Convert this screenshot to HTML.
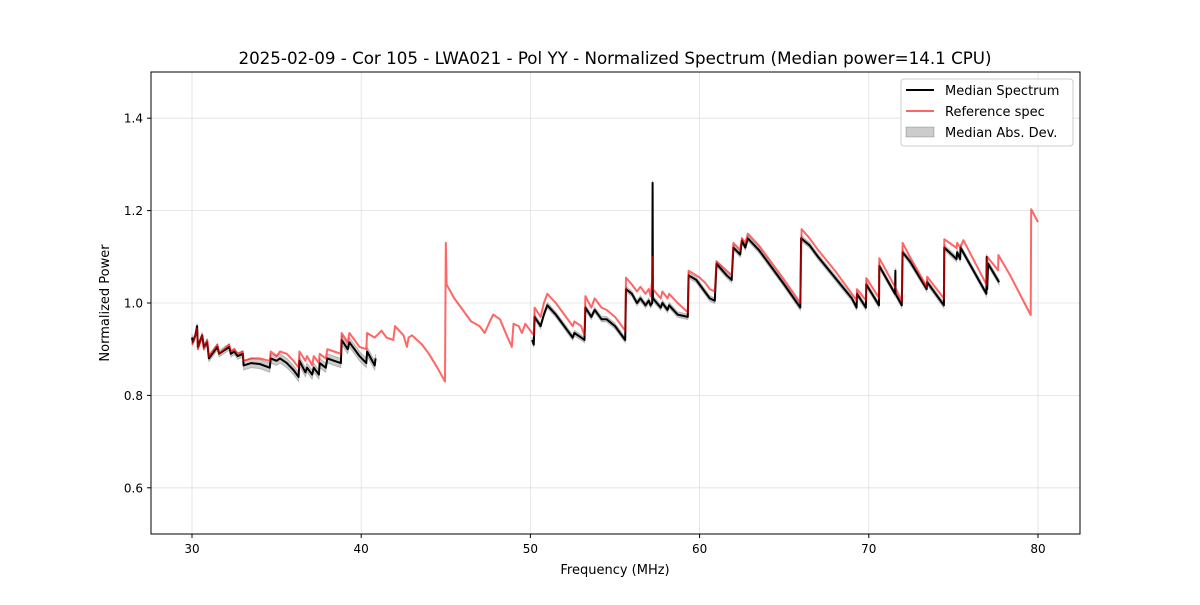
<!DOCTYPE html>
<html><head><meta charset="utf-8"><style>
body{margin:0;background:#fff;font-family:"Liberation Sans",sans-serif}
svg text{font-family:"DejaVu Sans","Liberation Sans",sans-serif;fill:#000}
</style></head><body>
<svg id="chart" width="1200" height="600" xmlns="http://www.w3.org/2000/svg">
<rect width="1200" height="600" fill="#fff"/>
<text x="615" y="64" text-anchor="middle" font-size="16.7">2025-02-09 - Cor 105 - LWA021 - Pol YY - Normalized Spectrum (Median power=14.1 CPU)</text>
<g id="grid"></g><g id="band"></g><g id="lines"></g><g id="axes"></g>
<text x="615" y="574" text-anchor="middle" font-size="13">Frequency (MHz)</text>
<text transform="translate(109,303) rotate(-90)" text-anchor="middle" font-size="13">Normalized Power</text>
<g>
<rect x="901" y="79" width="172" height="67" rx="3" fill="#fff" stroke="#ccc"/>
<line x1="906" y1="90" x2="934" y2="90" stroke="#000" stroke-width="2"/>
<text x="945" y="95" font-size="13">Median Spectrum</text>
<line x1="906" y1="111" x2="934" y2="111" stroke="red" stroke-opacity="0.6" stroke-width="2"/>
<text x="945" y="116" font-size="13">Reference spec</text>
<rect x="906" y="127" width="28" height="10" fill="#000" fill-opacity="0.2" stroke="#000" stroke-opacity="0.2"/>
<text x="945" y="137" font-size="13">Median Abs. Dev.</text>
</g>
</svg>
<script>
const xTicks=[30,40,50,60,70,80];
const yTicks=[0.6,0.8,1.0,1.2,1.4];
const refFreq=[30.0,30.2,30.3,30.35,30.6,30.7,30.9,31.0,31.5,31.6,32.2,32.3,32.5,32.7,33.0,33.05,33.5,34.0,34.6,34.65,35.0,35.2,35.6,36.0,36.3,36.35,36.7,36.8,37.1,37.2,37.5,37.55,37.9,38.0,38.4,38.8,38.85,39.2,39.3,39.9,40.3,40.35,40.8,41.2,41.5,41.9,42.0,42.5,42.7,42.8,43.0,43.3,43.6,44.0,44.5,44.95,45.0,45.05,45.5,46.0,46.5,47.0,47.3,47.6,47.8,48.2,48.6,48.9,49.0,49.3,49.5,49.7,50.0,50.2,50.25,50.6,50.8,51.0,51.5,52.5,52.6,53.0,53.2,53.25,53.6,53.8,54.2,54.5,55.0,55.6,55.65,56.0,56.3,56.5,56.8,57.0,57.1,57.2,57.22,57.24,57.7,57.8,58.1,58.2,58.7,59.3,59.35,59.8,60.0,60.3,60.6,60.9,61.0,61.6,61.9,62.0,62.4,62.5,62.7,62.85,63.5,64.0,65.0,65.95,66.03,66.5,67.0,68.0,69.0,69.28,69.3,69.83,69.85,70.6,70.62,71.55,71.95,72.0,72.43,73.42,73.45,74.44,74.46,75.19,75.22,75.4,75.59,76.97,77.0,77.64,77.66,78.35,79.57,79.6,80.0];
const refVal=[0.91,0.93,0.945,0.90,0.93,0.90,0.92,0.885,0.91,0.89,0.91,0.895,0.90,0.89,0.895,0.875,0.88,0.88,0.875,0.895,0.885,0.895,0.89,0.875,0.86,0.895,0.875,0.885,0.865,0.885,0.87,0.89,0.88,0.90,0.895,0.89,0.935,0.915,0.935,0.905,0.90,0.935,0.925,0.94,0.925,0.92,0.95,0.93,0.905,0.925,0.93,0.92,0.91,0.89,0.86,0.83,1.13,1.04,1.01,0.985,0.96,0.95,0.935,0.96,0.975,0.965,0.93,0.905,0.955,0.95,0.935,0.955,0.94,0.93,0.99,0.97,1.0,1.02,1.0,0.95,0.96,0.95,0.93,1.015,0.99,1.01,0.99,0.985,0.97,0.94,1.055,1.04,1.025,1.035,1.02,1.03,1.015,1.05,1.10,1.03,1.01,1.025,1.01,1.02,1.0,0.98,1.07,1.06,1.055,1.045,1.03,1.025,1.09,1.07,1.06,1.13,1.115,1.14,1.13,1.15,1.125,1.10,1.05,1.0,1.16,1.14,1.115,1.07,1.02,1.006,1.03,1.006,1.054,1.011,1.097,1.035,1.003,1.13,1.10,1.035,1.057,1.01,1.138,1.119,1.13,1.12,1.136,1.039,1.10,1.071,1.104,1.06,0.974,1.203,1.175];
const medFreq=[30.0,30.05,30.2,30.3,30.35,30.6,30.7,30.9,31.0,31.5,31.6,32.2,32.3,32.5,32.7,33.0,33.05,33.5,34.0,34.6,34.65,35.0,35.2,35.6,36.0,36.3,36.35,36.7,36.8,37.1,37.2,37.5,37.55,37.9,38.0,38.4,38.8,38.85,39.2,39.3,39.9,40.3,40.35,40.8,40.85,null,50.1,50.2,50.25,50.6,50.8,51.0,51.5,52.5,52.6,53.0,53.2,53.25,53.6,53.8,54.2,54.5,55.0,55.6,55.65,56.0,56.3,56.5,56.8,57.0,57.1,57.2,57.22,57.24,57.7,57.8,58.1,58.2,58.7,59.3,59.35,59.8,60.0,60.3,60.6,60.9,61.0,61.6,61.9,62.0,62.4,62.5,62.7,62.85,63.5,64.0,65.0,65.95,66.0,66.5,67.0,68.0,69.0,69.28,69.3,69.83,69.85,70.6,70.62,71.55,71.57,71.58,71.95,72.0,72.43,73.42,73.45,74.44,74.46,75.19,75.22,75.4,75.42,76.95,76.97,77.0,77.05,77.7];
const medVal=[0.925,0.915,0.93,0.95,0.905,0.93,0.905,0.915,0.88,0.905,0.89,0.905,0.89,0.895,0.885,0.89,0.865,0.87,0.868,0.86,0.88,0.875,0.88,0.87,0.855,0.84,0.875,0.85,0.86,0.845,0.86,0.845,0.87,0.86,0.88,0.875,0.87,0.92,0.9,0.915,0.885,0.87,0.895,0.865,0.88,null,0.92,0.91,0.97,0.95,0.975,0.995,0.975,0.925,0.935,0.925,0.92,0.99,0.97,0.985,0.965,0.965,0.95,0.92,1.03,1.02,1.0,1.01,0.995,1.005,0.995,1.0,1.26,1.01,0.99,1.0,0.985,0.995,0.975,0.97,1.06,1.05,1.04,1.025,1.01,1.005,1.085,1.06,1.05,1.12,1.105,1.135,1.12,1.14,1.115,1.09,1.04,0.99,1.14,1.125,1.1,1.055,1.01,0.99,1.02,0.99,1.04,0.995,1.08,1.02,1.07,1.02,0.995,1.11,1.09,1.03,1.045,0.995,1.12,1.095,1.11,1.095,1.12,1.02,1.1,1.03,1.085,1.045];
const madRanges=[[30,33,0.007],[33,41,0.01],[50,78,0.006]];

const NS="http://www.w3.org/2000/svg";
const L=151,R=1080,T=72,B=534;
const X=f=>192+(f-30)*16.92;
const Y=v=>303-(v-1)*462;
function mk(tag,attrs,parent){const e=document.createElementNS(NS,tag);for(const k in attrs)e.setAttribute(k,attrs[k]);parent.appendChild(e);return e;}
const grid=document.getElementById('grid'),axes=document.getElementById('axes'),band=document.getElementById('band'),lines=document.getElementById('lines');
xTicks.forEach(t=>{
 const g=mk('line',{x1:X(t),x2:X(t),y1:T,y2:B,stroke:'#e0e0e0','stroke-width':0.8},grid);
 
 
 mk('line',{x1:X(t),x2:X(t),y1:B,y2:B+4,stroke:'#000'},axes);
 const tx=mk('text',{x:X(t),y:B+19,'text-anchor':'middle','font-size':12},axes);tx.textContent=t;
 
 
});
yTicks.forEach(t=>{
 const g=mk('line',{x1:L,x2:R,y1:Y(t),y2:Y(t),stroke:'#e0e0e0','stroke-width':0.8},grid);
 
 
 mk('line',{x1:L-4,x2:L,y1:Y(t),y2:Y(t),stroke:'#000'},axes);
 const tx=mk('text',{x:L-8,y:Y(t)+4.5,'text-anchor':'end','font-size':12},axes);tx.textContent=t.toFixed(1);
 
 
});
const frame=mk('rect',{x:L,y:T,width:R-L,height:B-T,fill:'none',stroke:'#000','stroke-width':1},axes);



function madAt(f){for(const r of madRanges)if(f>=r[0]&&f<=r[1])return r[2];return 0.006;}
const segs=[];let cur=[];
medFreq.forEach((f,i)=>{if(f===null||medVal[i]===null){if(cur.length)segs.push(cur);cur=[];}else cur.push([f,medVal[i]]);});
if(cur.length)segs.push(cur);
segs.forEach(s=>{
 const up=s.map(p=>X(p[0]).toFixed(1)+','+Y(p[1]+madAt(p[0])).toFixed(1));
 const dn=s.slice().reverse().map(p=>X(p[0]).toFixed(1)+','+Y(p[1]-madAt(p[0])).toFixed(1));
 const b=mk('polygon',{points:up.concat(dn).join(' '),fill:'#000','fill-opacity':0.2,stroke:'#000','stroke-opacity':0.2},band);
 
 
 const l=mk('polyline',{points:s.map(p=>X(p[0]).toFixed(1)+','+Y(p[1]).toFixed(1)).join(' '),fill:'none',stroke:'#000','stroke-width':2,'stroke-linejoin':'round'},lines);
 
 
});
const rl=mk('polyline',{points:refFreq.map((f,i)=>X(f).toFixed(1)+','+Y(refVal[i]).toFixed(1)).join(' '),fill:'none',stroke:'red','stroke-opacity':0.6,'stroke-width':2,'stroke-linejoin':'round'},lines);


</script>
</body></html>
